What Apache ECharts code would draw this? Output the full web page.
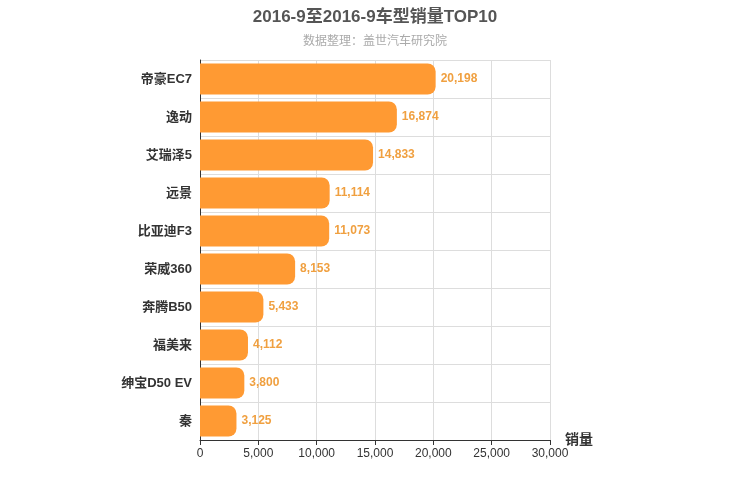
<!DOCTYPE html>
<html>
<head>
<meta charset="utf-8">
<script src="https://cdn.jsdelivr.net/npm/echarts@6/dist/echarts.min.js"></script>
<style>html,body{margin:0;padding:0;background:#fff}#c{width:750px;height:500px}</style>
</head>
<body>
<div id="c"></div>
<script>
const models = ['帝豪EC7', '逸动', '艾瑞泽5', '远景', '比亚迪F3', '荣威360', '奔腾B50', '福美来', '绅宝D50 EV', '秦'];
const sales = [20198, 16874, 14833, 11114, 11073, 8153, 5433, 4112, 3800, 3125];

const chart = echarts.init(document.getElementById('c'), null, { renderer: 'canvas' });
chart.setOption({
  animation: false,
  textStyle: { fontFamily: 'Arial, "Noto Sans CJK SC", sans-serif' },
  title: {
    text: '2016-9至2016-9车型销量TOP10',
    subtext: '数据整理：盖世汽车研究院',
    left: 'center',
    top: 4,
    itemGap: 10,
    textStyle: { fontSize: 17, fontWeight: 'bold', color: '#555' },
    subtextStyle: { fontSize: 12, color: '#aaa' }
  },
  grid: { left: 200, right: 200, top: 60, bottom: 60 },
  xAxis: {
    type: 'value',
    min: 0,
    max: 30000,
    interval: 5000,
    name: '销量',
    nameLocation: 'end',
    nameGap: 15,
    nameTextStyle: { fontSize: 14, fontWeight: 'bold', color: '#333', verticalAlign: 'middle', padding: [0, 0, 4, 0] },
    axisLine: { show: true, lineStyle: { color: '#333' } },
    axisTick: { show: true },
    axisLabel: { color: '#333', fontSize: 12 },
    splitLine: { lineStyle: { color: '#ddd' } }
  },
  yAxis: {
    type: 'category',
    data: models,
    inverse: true,
    axisLine: { lineStyle: { color: '#333' } },
    axisTick: { show: false },
    axisLabel: { color: '#333', fontSize: 13, fontWeight: 'bold' },
    splitLine: { show: true, lineStyle: { color: '#ddd' } }
  },
  series: [{
    type: 'bar',
    data: sales,
    barWidth: '82%',
    itemStyle: { color: '#ff9a33', borderRadius: [0, 8, 8, 0] },
    label: {
      show: true,
      position: 'right',
      color: '#f0a040',
      fontSize: 12,
      fontWeight: 'bold',
      formatter: p => p.value.toLocaleString('en-US')
    }
  }]
});
</script>
</body>
</html>
